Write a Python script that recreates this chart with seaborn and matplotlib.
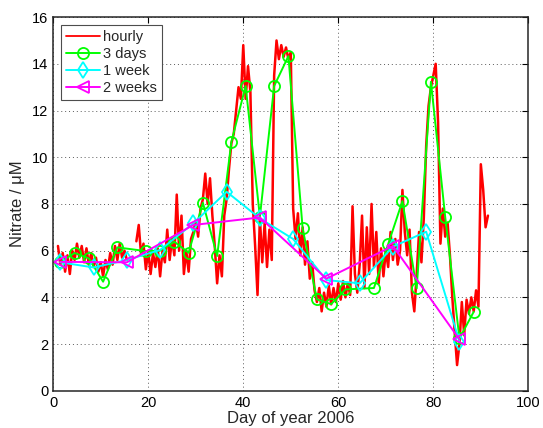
import numpy as np
import pandas as pd
import matplotlib
matplotlib.use('Agg')
import matplotlib.pyplot as plt
import seaborn as sns
from matplotlib.lines import Line2D

# ── data ─────────────────────────────────────────────────────
# hourly record, sampled every half day from day 1.0 (NaN = gap in record)
hourly_start = 1.0
hourly_vals = [
    6.2, 5.4, 5.9, 5.1, 5.8, 5.0, 6.0, 5.6, 6.3, 5.7,   # 1.0 - 5.5
    6.2, 5.5, 6.1, 5.4, 5.9, 5.3, 5.7, 5.1, 5.5, 4.9,   # 6.0 - 10.5
    5.6, 5.2, 5.9, 5.4, 6.2, 5.6, 6.3, 5.7, 6.0, 5.6,   # 11.0 - 15.5
    np.nan, np.nan, np.nan,                             # 16.0 - 17.0
    6.4, 7.1, 5.8, 6.3, 5.2, 6.0, 5.0, 5.9, 5.3, 6.1,   # 17.5 - 22.0
    4.9, 6.0, 5.5, 6.9, 5.6, 6.5, 5.8, 8.4, 6.0, 7.5,   # 22.5 - 27.0
    5.0, 6.0, 5.1, 6.5, 6.8, 7.3, 6.6, 7.8, 8.2, 9.3,   # 27.5 - 32.0
    8.0, 9.1, 7.5, 6.2, 4.6, 5.8, 4.9, 7.5, 8.2, 9.5,   # 32.5 - 37.0
    10.6, 11.0, 12.0, 13.0, 12.5, 14.8, 12.5, 13.9, 12.8, 8.0,  # 37.5 - 42.0
    6.2, 4.1, 7.4, 5.5, 7.2, 5.3, 6.9, 5.6, 13.5, 15.0,  # 42.5 - 47.0
    14.2, 14.8, 14.3, 14.7, 14.2, 14.5, 7.8, 6.5, 7.6, 5.8,  # 47.5 - 52.0
    7.0, 5.4, 6.4, 4.8, 5.5, 4.3, 3.8, 4.4, 3.4, 4.2,   # 52.5 - 57.0
    3.6, 4.5, 3.7, 4.4, 3.8, 4.6, 3.9, 4.7, 4.0, 4.6,   # 57.5 - 62.0
    4.1, 7.9, 5.0, 4.2, 5.4, 7.5, 4.4, 7.0, 5.0, 8.0,   # 62.5 - 67.0
    5.3, 6.8, 4.6, 6.1, 4.9, 6.0, 5.3, 6.8, 5.6, 6.5,   # 67.5 - 72.0
    5.4, 6.0, 8.6, 6.8, 5.8, 6.9, 4.2, 3.4, 5.0, 6.8,   # 72.5 - 77.0
    5.5, 7.4, 10.5, 12.2, 13.0, 13.5, 14.0, 11.5, 6.3, 7.8,  # 77.5 - 82.0
    6.6, 7.2, 5.8, 4.0, 2.5, 1.1, 2.0, 3.8, 2.4, 3.9,   # 82.5 - 87.0
    3.3, 4.0, 3.4, 4.3, 3.6, 9.7, 8.6, 7.0, 7.5,        # 87.5 - 91.5
]

# 3-day means
days3_x = [1.5, 4.5, 7.5, 10.5, 13.5, 19.5, 22.5, 25.5, 28.5, 31.5,
           34.5, 37.5, 40.5, 43.5, 46.5, 49.5, 52.5, 55.5, 58.5, 61.5,
           67.5, 70.5, 73.5, 76.5, 79.5, 82.5, 85.5, 88.5]
days3_y = [5.5, 5.9, 5.67, 4.67, 6.14, 5.98, 6.0, 6.38, 5.91, 8.05,
           5.77, 10.66, 13.05, 7.45, 13.05, 14.33, 6.95, 3.91, 3.71, 4.34,
           4.4, 6.28, 8.12, 4.38, 13.23, 7.45, 2.24, 3.38]

# 1-week means
week1_x = [1.5, 8.5, 15.5, 22.5, 29.5, 36.5, 43.5, 50.5, 57.5, 64.5, 71.5, 78.5, 85.5]
week1_y = [5.5, 5.28, 5.6, 6.03, 7.17, 8.52, 7.38, 6.5, 4.74, 4.6, 6.17, 6.81, 2.1]

# 2-week means
week2_x = [1.5, 15.5, 29.5, 43.5, 57.5, 71.5, 85.5]
week2_y = [5.52, 5.5, 7.1, 7.42, 4.8, 6.2, 2.2]

labels = ['hourly', '3 days', '1 week', '2 weeks']
colors = ['#ff0000', '#00ff00', '#00ffff', '#ff00ff']

# ── tables for seaborn ───────────────────────────────────────
hourly_x = hourly_start + 0.5 * np.arange(len(hourly_vals))
hourly = pd.DataFrame({'day': hourly_x, 'no3': hourly_vals})
hourly['seg'] = hourly['no3'].isna().cumsum()
hourly = hourly.dropna()

df3 = pd.DataFrame({'day': days3_x, 'no3': days3_y})
dfw1 = pd.DataFrame({'day': week1_x, 'no3': week1_y})
dfw2 = pd.DataFrame({'day': week2_x, 'no3': week2_y})

# ── plot ─────────────────────────────────────────────────────
sns.set_style('white')
plt.rcParams['font.family'] = ['Liberation Sans', 'DejaVu Sans']

fig = plt.figure(figsize=(5.43, 4.28), dpi=100)
ax = fig.add_axes([0.098, 0.087, 0.875, 0.873])

sns.lineplot(data=hourly, x='day', y='no3', units='seg', estimator=None,
             sort=False, color=colors[0], lw=1.8, ax=ax)
mk = dict(markerfacecolor='none', markeredgewidth=1.3, markersize=8, lw=1.4)
sns.lineplot(data=df3, x='day', y='no3', sort=False, color=colors[1],
             marker='o', markeredgecolor=colors[1], ax=ax, **mk)
sns.lineplot(data=dfw1, x='day', y='no3', sort=False, color=colors[2],
             marker='d', markeredgecolor=colors[2], ax=ax, **mk)
sns.lineplot(data=dfw2, x='day', y='no3', sort=False, color=colors[3],
             marker='<', markeredgecolor=colors[3], ax=ax, **mk)

ax.set_xlim(0, 100)
ax.set_ylim(0, 16)
ax.set_xticks(np.arange(0, 101, 20))
ax.set_yticks(np.arange(0, 17, 2))
ax.grid(True, color='0.35', linestyle=(0, (1, 3)), lw=0.7)
ax.tick_params(direction='in', top=True, right=True, length=4, width=0.8,
               labelsize=10.5, colors='black')
for s in ax.spines.values():
    s.set_color('0.15')
    s.set_linewidth(1.1)
ax.set_xlabel('Day of year 2006', fontsize=12, labelpad=1)
ax.set_ylabel('Nitrate / μM', fontsize=12, labelpad=5)

handles = [Line2D([], [], color=colors[0], lw=1.3)]
for c, m in zip(colors[1:], ['o', 'd', '<']):
    handles.append(Line2D([], [], color=c, lw=1.4, marker=m, markersize=8,
                          markerfacecolor='none', markeredgecolor=c,
                          markeredgewidth=1.3))
leg = ax.legend(handles, labels, loc='upper left', fontsize=10.5,
                handlelength=2.3, handletextpad=0.2, borderpad=0.35,
                labelspacing=0.2, borderaxespad=0.55, fancybox=False,
                framealpha=1)
leg.get_frame().set_edgecolor('0.3')
leg.get_frame().set_linewidth(0.8)

fig.savefig('out.png', dpi=100)
